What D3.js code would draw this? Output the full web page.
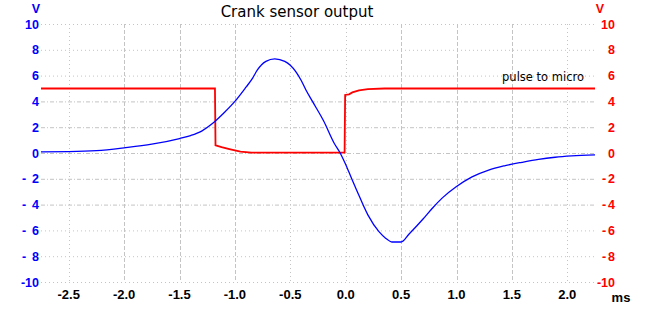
<!DOCTYPE html>
<meta charset="utf-8">
<script src="https://d3js.org/d3.v7.min.js"></script>
<style>
  body { margin: 0; background: #fff; }
  text { font-family: "Liberation Sans", Arial, sans-serif; }
</style>
<div id="chart"></div>
<script>

// sensor output (blue, left axis), time in ms / volts
var sensorT = [-2.75, -2.5, -2.25, -2.0, -1.75, -1.5, -1.4, -1.3, -1.2, -1.1, -1.0, -0.9, -0.84, -0.8, -0.72, -0.64,
               -0.55, -0.5, -0.4, -0.36, -0.3, -0.2, -0.1, -0.05, 0.0, 0.03, 0.1, 0.2, 0.3, 0.36, 0.42, 0.5,
               0.57, 0.7, 0.78, 0.87, 1.0, 1.14, 1.29, 1.44, 1.59, 1.74, 1.89, 2.04, 2.25];
var sensorV = [0.08, 0.1, 0.18, 0.4, 0.68, 1.12, 1.35, 1.7, 2.3, 3.1, 4.0, 5.1, 5.8, 6.4, 7.1, 7.3,
               7.1, 6.8, 5.6, 4.9, 4.0, 2.5, 0.7, 0.0, -0.9, -1.5, -2.9, -4.8, -6.1, -6.6, -6.9, -6.9,
               -6.3, -5.1, -4.3, -3.5, -2.6, -1.85, -1.32, -0.98, -0.72, -0.49, -0.33, -0.23, -0.15];

// pulse to micro (red, right axis)
var pulseT = [-2.75, -1.18, -1.175, -1.12, -1.05, -0.95, -0.85, -0.01, -0.005, 0.03, 0.06, 0.12, 0.2, 0.35, 2.25];
var pulseV = [5.0, 5.0, 0.6, 0.45, 0.3, 0.1, 0.03, 0.03, 4.5, 4.55, 4.7, 4.85, 4.95, 5.0, 5.0];

var xTicks = [-2.5, -2.0, -1.5, -1.0, -0.5, 0.0, 0.5, 1.0, 1.5, 2.0];
var xDotted = [-2.5, -0.5, 0.0, 2.0];
var yTicks = [10, 8, 6, 4, 2, 0, -2, -4, -6, -8, -10];

var width = 645, height = 331;

var svg = d3.select("#chart").append("svg")
    .attr("width", width)
    .attr("height", height);

var x = d3.scaleLinear().domain([-2.75, 2.25]).range([41, 595]);
var y = d3.scaleLinear().domain([-10, 10]).range([282, 24]);

var grid = "#c4c4c4";

// horizontal grid
svg.append("g").selectAll("line")
  .data(yTicks)
  .enter().append("line")
    .attr("x1", x.range()[0])
    .attr("x2", x.range()[1])
    .attr("y1", function(d) { return y(d) + 0.5; })
    .attr("y2", function(d) { return y(d) + 0.5; })
    .attr("stroke", grid)
    .attr("stroke-width", 1)
    .attr("stroke-dasharray", function(d) { return Math.abs(d) <= 4 ? "4,2,1,2" : "1,3"; });

// vertical grid
svg.append("g").selectAll("line")
  .data(xTicks)
  .enter().append("line")
    .attr("x1", function(d) { return Math.round(x(d)) + 0.5; })
    .attr("x2", function(d) { return Math.round(x(d)) + 0.5; })
    .attr("y1", y.range()[1])
    .attr("y2", y.range()[0])
    .attr("stroke", grid)
    .attr("stroke-width", 1)
    .attr("stroke-dasharray", function(d) { return xDotted.indexOf(d) >= 0 ? "1,3" : "4,2"; });

// y labels: minus sign sits apart from the digits, except for -10
function yLabels(g, xEnd, xMinus) {
  g.selectAll(".num")
    .data(yTicks)
    .enter().append("text")
      .attr("x", xEnd)
      .attr("y", function(d) { return y(d); })
      .attr("dy", "0.36em")
      .attr("text-anchor", "end")
      .text(function(d) { return d <= -10 ? d : Math.abs(d); });
  g.selectAll(".neg")
    .data(yTicks.filter(function(d) { return d < 0 && d > -10; }))
    .enter().append("text")
      .attr("x", xMinus)
      .attr("y", function(d) { return y(d); })
      .attr("dy", "0.36em")
      .text("-");
}

var left = svg.append("g").attr("fill", "#0000ff")
    .style("font-size", "12.5px").style("font-weight", "bold");
yLabels(left, 39, 22);
left.append("text").attr("x", 36).attr("y", 13).attr("text-anchor", "middle").text("V");

var right = svg.append("g").attr("fill", "#ff0000")
    .style("font-size", "12.5px").style("font-weight", "bold");
yLabels(right, 615, 602);
right.append("text").attr("x", 600).attr("y", 13).attr("text-anchor", "middle").text("V");

// x axis labels
var bottom = svg.append("g").attr("fill", "#000")
    .style("font-size", "13px").style("font-weight", "bold");
bottom.selectAll("text")
  .data(xTicks)
  .enter().append("text")
    .attr("x", function(d) { return x(d); })
    .attr("y", 299)
    .attr("text-anchor", "middle")
    .text(function(d) { return d.toFixed(1); });
bottom.append("text").attr("x", 621).attr("y", 302).attr("text-anchor", "middle").text("ms");

// title
svg.append("text")
    .attr("x", 297)
    .attr("y", 17)
    .attr("text-anchor", "middle")
    .style("font-family", "'DejaVu Sans', sans-serif")
    .style("font-size", "15px")
    .text("Crank sensor output");

// traces
var line = d3.line()
    .x(function(d) { return x(d[0]); })
    .y(function(d) { return y(d[1]); });

svg.append("path")
    .datum(pulseT.map(function(t, i) { return [t, pulseV[i]]; }))
    .attr("fill", "none")
    .attr("stroke", "#ff0000")
    .attr("stroke-width", 1.8)
    .attr("d", line);

svg.append("path")
    .datum(sensorT.map(function(t, i) { return [t, sensorV[i]]; }))
    .attr("fill", "none")
    .attr("stroke", "#0000ff")
    .attr("stroke-width", 1.3)
    .attr("d", line.curve(d3.curveMonotoneX));

svg.append("text")
    .attr("x", 584)
    .attr("y", 81)
    .attr("text-anchor", "end")
    .style("font-family", "'DejaVu Sans', sans-serif")
    .style("font-size", "11.5px")
    .text("pulse to micro");

</script>
